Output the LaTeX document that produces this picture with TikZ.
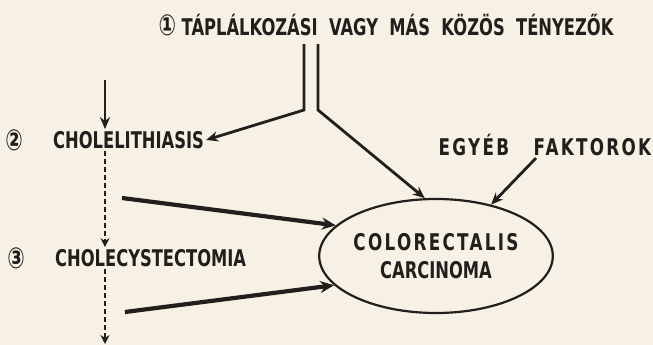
\documentclass[tikz,border=0pt]{standalone}
\usepackage{fontspec}
\usepackage{tikz}
\usetikzlibrary{shapes.geometric, arrows.meta, positioning, calc}
\definecolor{paper}{RGB}{246, 240, 229}
\definecolor{ink}{RGB}{34, 30, 28}
\newfontfamily\labelfont[FakeStretch=0.71]{DejaVu Sans Bold}
\newfontfamily\spacedfont[FakeStretch=0.73, LetterSpace=10]{DejaVu Sans Bold}
\newcommand{\circnum}[1]{{\fontsize{29}{29}\selectfont #1}}

\tikzset{
  lbl/.style={inner sep=2pt, text=ink, font=\labelfont\fontsize{23}{27}\selectfont},
  spaced/.style={lbl, font=\spacedfont\fontsize{23}{27}\selectfont},
  thin arrow/.style={draw=ink, line width=2.8pt, -{Stealth[length=12pt, width=10pt]}},
  thick arrow/.style={draw=ink, line width=4.2pt, -{Stealth[length=14pt, width=12pt]}},
  dash arrow/.style={draw=ink, line width=2pt, dash pattern=on 5pt off 3pt, -{Stealth[length=9pt, width=9pt]}}
}

\begin{document}
\begin{tikzpicture}[x=1pt, y=-1pt]
  \fill[paper] (0,0) rectangle (653,345);
  \useasboundingbox (0,0) rectangle (653,345);

  % labels
  \node[lbl] (title) at (386,25) {\circnum{①} TÁPLÁLKOZÁSI\ \ VAGY\ \ MÁS\ \ KÖZÖS\ \ TÉNYEZŐK};
  \node[lbl] (num2) at (14,140) {\circnum{②}};
  \node[lbl, anchor=west] (lith) at (51,140) {CHOLELITHIASIS};
  \node[lbl] (num3) at (16,258) {\circnum{③}};
  \node[lbl, anchor=west] (cyst) at (53,258) {CHOLECYSTECTOMIA};
  \node[spaced] (egyeb) at (545,145) {EGYÉB\ \ \ FAKTOROK};
  \node[draw=ink, line width=2.2pt, ellipse, minimum width=232pt, minimum height=114pt,
        align=center, inner sep=0pt] (crc) at (436,256)
        {{\spacedfont\fontsize{23}{27}\selectfont\color{ink} COLORECTALIS}\\[9pt]
         {\labelfont\fontsize{23}{27}\selectfont\color{ink} CARCINOMA}};

  % free ends
  \coordinate (vtop) at (105,80);
  \coordinate (vend) at (105,344);
  \coordinate (b1) at (304,110);
  \coordinate (b2) at (318,110);
  \coordinate (s1) at (122,198);
  \coordinate (s2) at (125,312);

  % connectors
  \draw[thin arrow] (vtop) -- (vtop |- lith.north);
  \draw[dash arrow] (vtop |- lith.south) -- (vtop |- cyst.north);
  \draw[dash arrow] (vtop |- cyst.south) -- (vend);
  \draw[thin arrow] (b1 |- title.south) ++(0,6) -- (b1) -- (lith.east);
  \draw[thin arrow] (b2 |- title.south) ++(0,6) -- (b2) -- (crc.101);
  \draw[thin arrow] ([xshift=-9pt]egyeb.south) -- (crc.43);
  \draw[thick arrow] (s1) -- (crc.163);
  \draw[thick arrow] (s2) -- (crc.196);
\end{tikzpicture}
\end{document}
